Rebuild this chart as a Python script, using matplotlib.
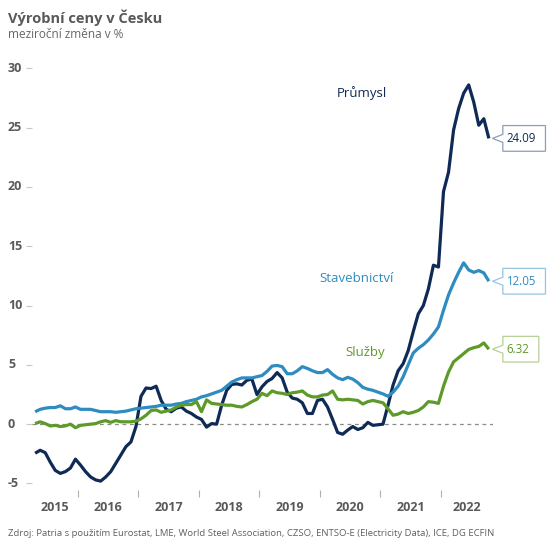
import matplotlib
matplotlib.use("Agg")
import matplotlib.pyplot as plt
import numpy as np
from matplotlib.path import Path
from matplotlib.transforms import blended_transform_factory

plt.rcParams['font.family'] = ['Open Sans', 'DejaVu Sans']

# monthly data, Apr 2015 - Oct 2022 (y/y change in %)
start_year, start_month = 2015, 4

prumysl = [-2.45, -2.2, -2.4, -3.2, -3.9, -4.15, -4.0, -3.7, -2.95,
           -3.45, -4.0, -4.45, -4.7, -4.8, -4.45, -4.0, -3.3, -2.6, -1.9, -1.5, -0.2,
           2.35, 3.05, 3.0, 3.2, 2.0, 1.25, 1.05, 1.35, 1.45, 1.1, 0.9, 0.6,
           0.4, -0.25, 0.05, 0.0, 1.6, 2.85, 3.35, 3.4, 3.3, 3.7, 3.8, 2.5,
           3.15, 3.6, 3.85, 4.35, 3.9, 2.7, 2.2, 2.1, 1.8, 0.9, 0.9, 2.0,
           2.1, 1.45, 0.4, -0.7, -0.85, -0.5, -0.2, -0.45, -0.3, 0.15, -0.1, -0.05,
           0.0, 1.6, 3.3, 4.5, 5.1, 6.2, 7.8, 9.3, 10.0, 11.4, 13.4, 13.25,
           19.6, 21.25, 24.8, 26.6, 27.9, 28.6, 27.15, 25.2, 25.75, 24.09]

stavebnictvi = [1.05, 1.25, 1.35, 1.4, 1.4, 1.55, 1.3, 1.3, 1.45,
                1.25, 1.25, 1.25, 1.15, 1.05, 1.05, 1.05, 1.0, 1.05, 1.1, 1.2, 1.3,
                1.35, 1.4, 1.45, 1.5, 1.6, 1.6, 1.6, 1.7, 1.75, 1.9, 2.0, 2.1,
                2.3, 2.4, 2.55, 2.7, 2.85, 3.2, 3.55, 3.75, 3.9, 3.9, 3.9, 4.0,
                4.1, 4.45, 4.9, 4.95, 4.85, 4.25, 4.25, 4.5, 4.85, 4.7, 4.5, 4.35,
                4.35, 4.6, 4.2, 3.9, 3.75, 3.95, 3.8, 3.5, 3.1, 2.95, 2.85, 2.7,
                2.55, 2.35, 2.7, 3.2, 4.0, 5.0, 6.0, 6.4, 6.7, 7.1, 7.6, 8.2,
                9.6, 10.9, 11.9, 12.8, 13.6, 13.0, 12.8, 12.95, 12.75, 12.05]

sluzby = [0.05, 0.2, 0.05, -0.15, -0.1, -0.2, -0.15, 0.0, -0.3,
          -0.1, -0.05, 0.0, 0.05, 0.2, 0.3, 0.15, 0.3, 0.2, 0.2, 0.2, 0.25,
          0.45, 0.75, 1.15, 1.2, 1.0, 1.1, 1.2, 1.45, 1.6, 1.65, 1.65, 1.9,
          1.05, 2.05, 1.75, 1.7, 1.65, 1.6, 1.6, 1.5, 1.45, 1.65, 1.9, 2.1,
          2.6, 2.4, 2.8, 2.65, 2.6, 2.5, 2.65, 2.7, 2.8, 2.45, 2.3, 2.3,
          2.45, 2.5, 2.8, 2.1, 2.05, 2.1, 2.05, 2.0, 1.7, 1.9, 2.0, 1.9,
          1.8, 1.3, 0.75, 0.85, 1.05, 0.9, 1.0, 1.15, 1.45, 1.9, 1.85, 1.75,
          3.2, 4.4, 5.25, 5.6, 5.95, 6.3, 6.45, 6.55, 6.85, 6.32]

series_names = ['Průmysl', 'Stavebnictví', 'Služby']
series_colors = ['#0e2a55', '#2e8cc0', '#5e9a2a']
box_edges = ['#8d9db6', '#94c6e0', '#b6d197']
name_pos = [(2020.69, 27.9), (2020.6, 12.3), (2020.75, 6.0)]

years = [2015, 2016, 2017, 2018, 2019, 2020, 2021, 2022]
yticks = [-5, 0, 5, 10, 15, 20, 25, 30]

x = np.array([start_year + (start_month - 1 + i + 0.5) / 12 for i in range(len(prumysl))])

fig = plt.figure(figsize=(5.5, 5.5), dpi=100)
ax = fig.add_axes([32 / 550, 60 / 550, (493 - 32) / 550, (490 - 60) / 550])
ax.set_xlim(2015.24, 2022.86)
ax.set_ylim(-5.55, 30.7)

ax.axhline(0, color='#8a8a8a', lw=0.9, ls=(0, (3, 3)))

for vals, col in zip([prumysl, stavebnictvi, sluzby], series_colors):
    ax.plot(x, vals, color=col, lw=2.3, solid_joinstyle='round', solid_capstyle='butt')


# callout box with a notch on the left side
def callout(x0, y0, width, height, mutation_size):
    ms = mutation_size
    l, r = x0 - 0.35 * ms, x0 + width + 0.8 * ms
    b, t = y0 - 0.55 * ms, y0 + height + 0.55 * ms
    ym = (b + t) / 2
    n = 0.35 * ms
    verts = [(l, b), (r, b), (r, t), (l, t), (l, ym + n), (l - 0.9 * ms, ym),
             (l, ym - n), (l, b)]
    return Path(verts, closed=True)


for vals, col, ec in zip([prumysl, stavebnictvi, sluzby], series_colors, box_edges):
    ax.annotate(f'{vals[-1]:.2f}', xy=(x[-1], vals[-1]), xytext=(18, 0),
                textcoords='offset pixels', ha='left', va='center',
                fontsize=8.3, color=col, annotation_clip=False,
                bbox=dict(boxstyle=callout, fc='white', ec=ec, lw=0.9))

for name, col, (nx, ny) in zip(series_names, series_colors, name_pos):
    ax.text(nx, ny, name, color=col, fontsize=9.5, ha='center', va='center')

# y axis
ax.set_yticks(yticks)
ax.set_yticklabels([])
ax.tick_params(axis='y', length=4, width=0.8, color='#c8c8c8', direction='out')
tr = blended_transform_factory(fig.transFigure, ax.transData)
for v in yticks:
    ax.text(8 / 550, v, str(v), transform=tr, ha='left', va='center',
            fontsize=9, fontweight='bold', color='#595959')

# x axis: year boundaries as minor ticks, labels centred in the visible part of each year
lo, hi = ax.get_xlim()
centers = [(max(y, lo) + min(y + 1, hi)) / 2 for y in years]
ax.set_xticks(centers)
ax.set_xticklabels([str(y) for y in years], fontsize=9, fontweight='bold', color='#595959')
ax.set_xticks(years[1:], minor=True)
ax.tick_params(axis='x', which='major', length=0, pad=8)
ax.tick_params(axis='x', which='minor', length=5, width=0.8, color='#b0b0b0', pad=2)

for s in ax.spines.values():
    s.set_visible(False)

fig.text(8 / 550, 1 - 18 / 550, 'Výrobní ceny v Česku', fontsize=10.5, fontweight='bold',
         color='#595959', ha='left', va='center')
fig.text(8 / 550, 1 - 34 / 550, 'meziroční změna v %', fontsize=8.5, color='#666666',
         ha='left', va='center')
fig.text(8 / 550, 1 - 533 / 550,
         'Zdroj: Patria s použitím Eurostat, LME, World Steel Association, CZSO, ENTSO-E (Electricity Data), ICE, DG ECFIN',
         fontsize=6.8, color='#606060', ha='left', va='center')

fig.savefig('out.png', dpi=100, facecolor='white')
